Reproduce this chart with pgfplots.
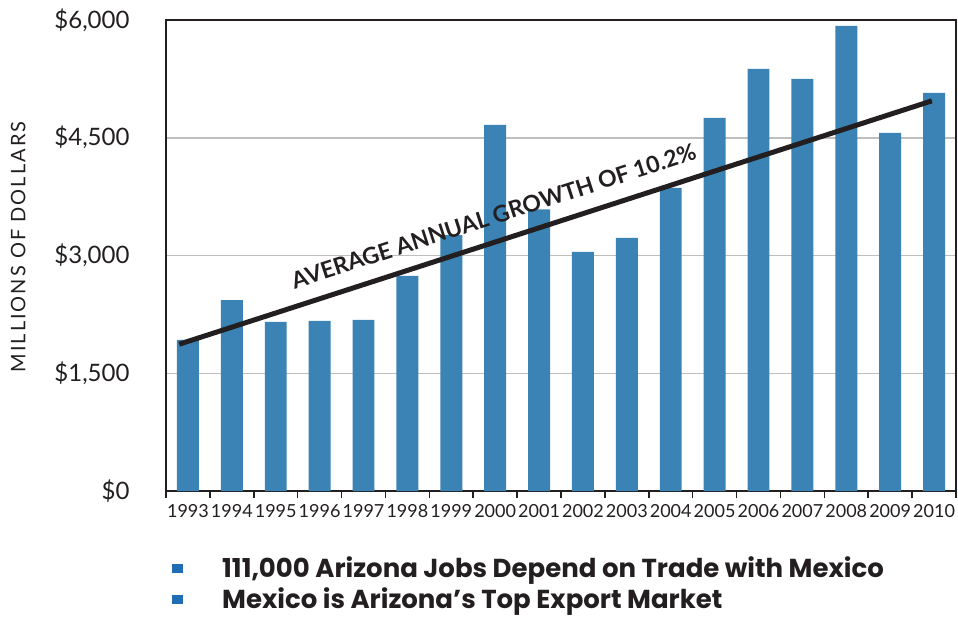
\documentclass[border=0pt]{standalone}
\usepackage{pgfplots}
\pgfplotsset{compat=1.18}
\usepackage{fontspec}
\setmainfont{Lato}
\newfontfamily\geo{Poppins}
\newfontfamily\spaced{Lato}[LetterSpace=10]
\definecolor{barblue}{RGB}{58,131,180}
\definecolor{bulletblue}{RGB}{31,110,180}
\definecolor{ink}{RGB}{35,31,32}
\definecolor{gridgray}{RGB}{190,190,190}
\begin{document}
\begin{tikzpicture}
\begin{axis}[
  at={(166pt,125pt)}, anchor=south west,
  width=790pt, height=471pt, scale only axis,
  xmin=-0.5, xmax=17.5, ymin=0, ymax=6000,
  axis line style={ink, line width=1.5pt},
  /pgf/number format/assume math mode=true,
  ytick={0,1500,3000,4500,6000},
  yticklabels={\$0,{\$1,500},{\$3,000},{\$4,500},{\$6,000}},
  ytick style={draw=none},
  yticklabel style={font=\fontsize{24}{28}\selectfont, text=ink, anchor=east, xshift=-26pt},
  ymajorgrids, grid style={gridgray, line width=1.5pt},
  xtick={-0.5,0.5,...,17.5}, xticklabels={},
  xtick pos=bottom, tick align=outside, major tick length=7pt,
  xtick style={ink, line width=1.5pt},
  extra x ticks={0,...,17},
  extra x tick labels={1993,1994,1995,1996,1997,1998,1999,2000,2001,2002,2003,2004,2005,2006,2007,2008,2009,2010},
  extra x tick style={major tick length=0pt, xticklabel style={font=\fontsize{18}{21}\selectfont, text=ink, anchor=north, yshift=-10pt}},
  ylabel={MILLIONS OF DOLLARS},
  ylabel style={font=\spaced\fontsize{20}{24}\selectfont, text=ink, at={(rel axis cs:-0.187,0.518)}, anchor=center},
  legend style={at={(rel axis cs:0.0076,-0.140)}, anchor=north west, draw=none, fill=none,
    font=\geo\fontsize{26}{28}\selectfont\bfseries, text=ink, row sep=4pt, inner sep=0pt,
    nodes={inner sep=1pt, text height=19pt, text depth=6pt}},
  legend cell align=left,
  clip=false,
]
\addplot[ybar, bar width=0.5, fill=barblue, draw=none, forget plot] coordinates {
(0,1924) (1,2433) (2,2153) (3,2166) (4,2179) (5,2739) (6,3261) (7,4663) (8,3589)
(9,3045) (10,3223) (11,3860) (12,4752) (13,5376) (14,5249) (15,5924) (16,4561) (17,5071)};
\addplot[ink, line width=5pt, forget plot] coordinates {(-0.2,1870) (16.95,4970)}
  node[pos=0.428, sloped, anchor=base, yshift=17pt, font=\fontsize{23}{26}\selectfont\bfseries, text=ink] {AVERAGE ANNUAL GROWTH OF 10.2\%};
\addlegendimage{legend image code/.code={\fill[draw=none, fill=bulletblue] (0pt,-2pt) rectangle (11pt,7pt); \path[draw=none, fill=none] (0pt,-8pt) rectangle (49pt,7pt);}}
\addlegendentry{111,000 Arizona Jobs Depend on Trade with Mexico}
\addlegendimage{legend image code/.code={\fill[draw=none, fill=bulletblue] (0pt,-2pt) rectangle (11pt,7pt); \path[draw=none, fill=none] (0pt,-8pt) rectangle (49pt,7pt);}}
\addlegendentry{Mexico is Arizona’s Top Export Market}
\end{axis}
\pgfresetboundingbox
\useasboundingbox (0pt,0pt) rectangle (958pt,616pt);
\end{tikzpicture}
\end{document}
